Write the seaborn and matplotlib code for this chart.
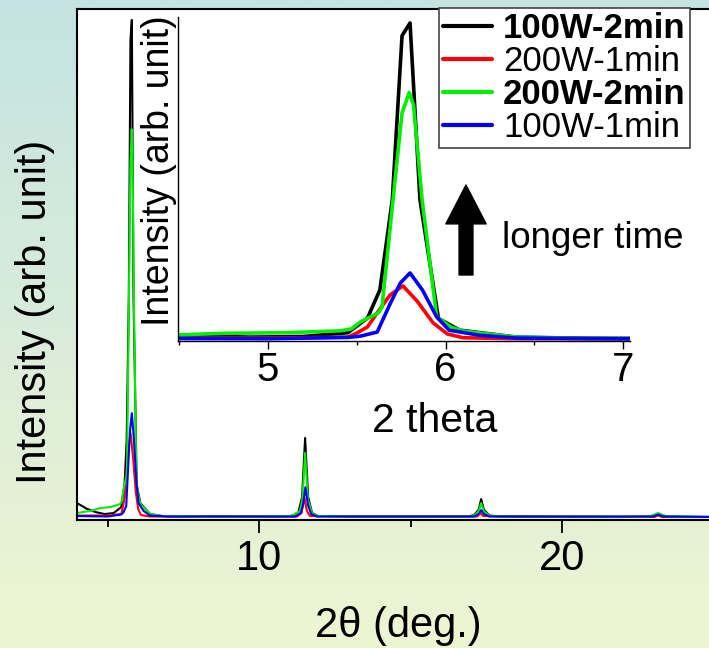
import numpy as np
import pandas as pd
import matplotlib
matplotlib.use("Agg")
import matplotlib.pyplot as plt
from matplotlib.lines import Line2D
from matplotlib.ticker import MultipleLocator
import seaborn as sns

# ---------------- data (2theta in deg, intensity in arb. units) ----------------
series_names = ["100W-2min", "200W-1min", "200W-2min", "100W-1min"]
series_colors = ["#000000", "#ff0000", "#00ee00", "#0000ff"]
bold_labels = [True, False, True, False]

tt_100w_2min = [3.99, 4.30, 4.60, 4.90, 5.20, 5.45, 5.56, 5.63, 5.70, 5.755, 5.80, 5.856,
                5.96, 6.08, 6.40, 6.80, 7.50, 8.50, 9.50, 10.50, 11.10, 11.30,
                11.42, 11.52, 11.62, 11.75, 11.95, 13.0, 15.0, 16.9, 17.10, 17.25, 17.33,
                17.42, 17.60, 18.0, 20.0, 22.0, 22.9, 23.1, 23.17, 23.25, 23.45, 25.1]
int_100w_2min = [2.8, 1.7, 1.0, 0.6, 0.8, 2.0, 6.6, 15.5, 44, 96, 100, 44,
                 6.5, 2.8, 0.6, 0.2, 0.1, 0.2, 0.1, 0.1, 0.2, 1.0,
                 4.0, 15.9, 4.0, 0.8, 0.2, 0.1, 0.1, 0.1, 0.4, 1.5, 3.6,
                 1.5, 0.3, 0.1, 0.0, 0.0, 0.1, 0.5, 0.7, 0.5, 0.1, 0.0]

tt_200w_1min = [3.99, 5.00, 5.45, 5.50, 5.56, 5.614, 5.687, 5.76, 5.84, 5.93, 6.01, 6.10,
                6.40, 11.25, 11.40, 11.50, 11.58, 11.68, 17.2, 17.31, 17.40, 23.05, 23.17,
                23.3, 25.1]
int_200w_1min = [0.3, 0.3, 0.6, 1.9, 3.8, 8.2, 13.9, 16.8, 12, 5.1, 1.6, 0.4,
                 0.1, 0.1, 0.8, 3.8, 1.2, 0.2, 0.1, 0.8, 0.2, 0.0, 0.3,
                 0.0, 0.0]

tt_200w_2min = [3.99, 4.49, 4.75, 5.10, 5.41, 5.47, 5.52, 5.62, 5.642, 5.704, 5.755, 5.795,
                5.82, 5.868, 5.95, 6.03, 6.10, 6.40, 6.80, 8.0, 10.0, 11.0, 11.15, 11.35,
                11.43, 11.52, 11.61, 11.75, 11.95, 13.0, 17.0, 17.12, 17.25, 17.33, 17.42,
                17.6, 18.0, 22.9, 23.05, 23.17, 23.28, 23.45, 25.1]
int_200w_2min = [0.8, 1.3, 1.8, 2.0, 2.6, 3.2, 5.4, 8.2, 10, 44, 71.5, 78,
                 74, 44, 7, 3.8, 2.5, 0.6, 0.2, 0.1, 0.1, 0.2, 0.5, 1.2,
                 3.5, 12.9, 3.5, 0.7, 0.2, 0.1, 0.1, 0.4, 1.2, 2.8, 1.2,
                 0.2, 0.1, 0.1, 0.5, 0.8, 0.5, 0.1, 0.0]

tt_100w_1min = [3.99, 5.00, 5.45, 5.52, 5.615, 5.69, 5.745, 5.80, 5.87, 5.95, 6.02, 6.19,
                6.40, 7.0, 11.2, 11.38, 11.45, 11.53, 11.61, 11.72, 11.9, 17.1, 17.25,
                17.33, 17.42, 17.6, 23.0, 23.17, 23.35, 25.1]
int_100w_1min = [0.2, 0.1, 0.5, 0.9, 2.2, 11.4, 17.7, 20.9, 15.5, 7, 2.8, 1.2,
                 0.3, 0.1, 0.1, 0.8, 2.5, 6.0, 2.5, 0.6, 0.1, 0.1, 0.6,
                 1.4, 0.6, 0.1, 0.1, 0.5, 0.1, 0.0]

main_xticks = [10, 20]
inset_xticks = [5, 6, 7]

# ---------------- build long table ----------------
xs = [tt_100w_2min, tt_200w_1min, tt_200w_2min, tt_100w_1min]
ys = [int_100w_2min, int_200w_1min, int_200w_2min, int_100w_1min]
frames = []
for name, x, y in zip(series_names, xs, ys):
    frames.append(pd.DataFrame({"two_theta": x, "intensity": y, "sample": name}))
df = pd.concat(frames, ignore_index=True)
palette = dict(zip(series_names, series_colors))

# ---------------- style ----------------
sns.set_style("white")
plt.rcParams["font.family"] = ["Liberation Sans", "DejaVu Sans"]
plt.rcParams["text.color"] = "black"
plt.rcParams["xtick.color"] = "black"
plt.rcParams["xtick.labelcolor"] = "black"

W, H = 709, 648
fig = plt.figure(figsize=(W / 100, H / 100), dpi=100)

# background gradient
bg = fig.add_axes([0, 0, 1, 1], zorder=-10)
top_c = np.array([196, 227, 226]) / 255.0
bot_c = np.array([238, 245, 210]) / 255.0
t = np.linspace(0, 1, 256)[:, None]
grad = (top_c[None, :] * (1 - t) + bot_c[None, :] * t)[:, None, :]
bg.imshow(grad, aspect="auto", extent=[0, 1, 0, 1])
bg.set_axis_off()

def fx(px):
    return px / W

def fy(py):
    return 1 - py / H

# main axes
L, R, T, B = 77, 715, 9, 520
ax = fig.add_axes([fx(L), fy(B), (R - L) / W, (B - T) / H])
ax.set_facecolor("white")
sns.lineplot(data=df, x="two_theta", y="intensity", hue="sample", hue_order=series_names,
             palette=palette, sort=False, estimator=None, linewidth=1.5, legend=False, ax=ax)
ax.set_xlim(3.99, 25.05)
ax.set_ylim(-0.6, 102.2)
ax.set_xlabel("")
ax.set_ylabel("")
ax.set_yticks([])
ax.set_xticks(main_xticks)
ax.xaxis.set_minor_locator(MultipleLocator(5))
ax.tick_params(axis="x", which="major", direction="out", length=9, width=1.3,
               labelsize=30, pad=5, bottom=True, colors="black")
ax.tick_params(axis="x", which="minor", direction="out", length=5, width=1.3, bottom=True)
for side in ["left", "top", "bottom"]:
    ax.spines[side].set_visible(True)
    ax.spines[side].set_color("black")
    ax.spines[side].set_linewidth(1.5)
ax.spines["right"].set_visible(False)

# inset axes
iL, iR, iT, iB = 178, 630, 17, 341
ins = fig.add_axes([fx(iL), fy(iB), (iR - iL) / W, (iB - iT) / H])
ins.patch.set_alpha(0)
sns.lineplot(data=df, x="two_theta", y="intensity", hue="sample", hue_order=series_names,
             palette=palette, sort=False, estimator=None, linewidth=2.6, legend=False, ax=ins)
ins.set_xlim(4.493, 7.039)
ins.set_ylim(-0.63, 101.9)
ins.set_xlabel("")
ins.set_ylabel("")
ins.set_yticks([])
ins.set_xticks(inset_xticks)
ins.xaxis.set_minor_locator(MultipleLocator(0.5))
ins.tick_params(axis="x", which="major", direction="out", length=6, width=1.0,
                labelsize=29, pad=1, bottom=True, colors="black")
ins.tick_params(axis="x", which="minor", direction="out", length=3, width=1.0, bottom=True)
for side in ["top", "right"]:
    ins.spines[side].set_visible(False)
for side in ["left", "bottom"]:
    ins.spines[side].set_visible(True)
    ins.spines[side].set_color("black")
    ins.spines[side].set_linewidth(1.0)

# texts
fig.text(fx(35), fy(312), "Intensity (arb. unit)", rotation=90, ha="center", va="center",
         fontsize=30, color="black")
fig.text(fx(398), fy(637), "2θ (deg.)", ha="center", va="baseline", fontsize=30, color="black")
fig.text(fx(159), fy(171), "Intensity (arb. unit)", rotation=90, ha="center", va="center",
         fontsize=27, color="black")
fig.text(fx(435), fy(432), "2 theta", ha="center", va="baseline", fontsize=29.5, color="black")
fig.text(fx(502), fy(248), "longer time", ha="left", va="baseline", fontsize=26.5, color="black")

# arrow
fig.add_artist(matplotlib.patches.FancyArrowPatch(
    posA=(466, H - 275), posB=(466, H - 185), transform=None,
    arrowstyle="simple,head_length=2.8,head_width=2.9,tail_width=1.0",
    mutation_scale=10, color="black", shrinkA=0, shrinkB=0))

# legend
handles = [Line2D([0], [0], color=c, linewidth=3.0) for c in series_colors]
leg = fig.legend(handles, series_names, loc="upper left",
                 bbox_to_anchor=(fx(439), fy(8)), borderaxespad=0,
                 fontsize=25, frameon=True, fancybox=False, framealpha=1,
                 edgecolor="#444444", handlelength=1.4, handletextpad=0.32,
                 labelspacing=0.0, borderpad=0.12)
leg.get_frame().set_linewidth(1.2)
for txt, b in zip(leg.get_texts(), bold_labels):
    txt.set_color("black")
    if b:
        txt.set_fontweight("bold")

fig.savefig("out.png", dpi=100)
